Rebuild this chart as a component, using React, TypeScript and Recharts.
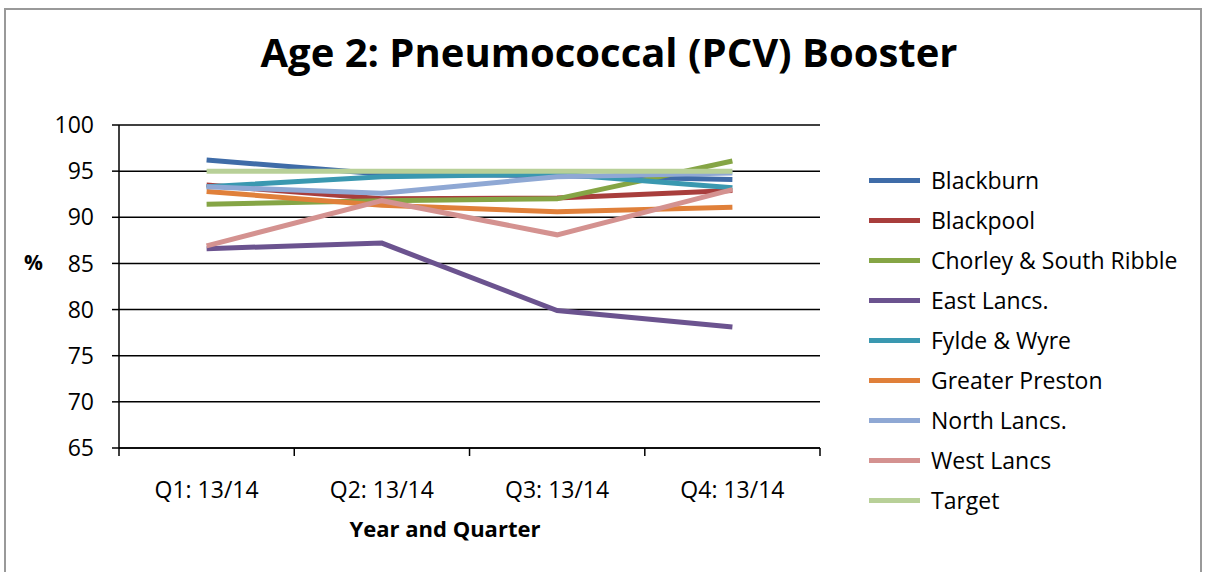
import { LineChart, Line, XAxis, YAxis, CartesianGrid } from 'recharts';

const quarters = ['Q1: 13/14', 'Q2: 13/14', 'Q3: 13/14', 'Q4: 13/14'];
const blackburn = [96.2, 94.7, 94.5, 94.1];
const blackpool = [93.5, 92.0, 92.1, 92.9];
const chorley = [91.4, 91.8, 92.0, 96.1];
const eastLancs = [86.6, 87.2, 79.9, 78.1];
const fylde = [93.3, 94.4, 94.7, 93.2];
const preston = [92.8, 91.3, 90.6, 91.1];
const northLancs = [93.3, 92.6, 94.4, 94.8];
const westLancs = [86.9, 91.8, 88.1, 93.0];
const target = [95, 95, 95, 95];
const yTicks = [65, 70, 75, 80, 85, 90, 95, 100];

const SERIES = [
  { key: 'Blackburn', values: blackburn, color: '#3F6CA8' },
  { key: 'Blackpool', values: blackpool, color: '#A83E3C' },
  { key: 'Chorley & South Ribble', values: chorley, color: '#85A545' },
  { key: 'East Lancs.', values: eastLancs, color: '#6B538F' },
  { key: 'Fylde & Wyre', values: fylde, color: '#3A98B0' },
  { key: 'Greater Preston', values: preston, color: '#E0803A' },
  { key: 'North Lancs.', values: northLancs, color: '#8FA8D4' },
  { key: 'West Lancs', values: westLancs, color: '#D49290' },
  { key: 'Target', values: target, color: '#B8D098' },
];

const data = quarters.map((q, i) => {
  const row: any = { q };
  SERIES.forEach((s) => (row[s.key] = s.values[i]));
  return row;
});

const FONT = '"Open Sans", Lato, sans-serif';
const HALF_BAND = 87.6;

// category label in the middle, tick marks on the category boundaries (Excel style)
function QuarterTick({ x, y, payload, index, visibleTicksCount }: any) {
  const last = index === visibleTicksCount - 1;
  return (
    <g>
      <line x1={x - HALF_BAND} x2={x - HALF_BAND} y1={y} y2={y + 8} stroke="#000" strokeWidth={1.5} />
      {last && <line x1={x + HALF_BAND} x2={x + HALF_BAND} y1={y} y2={y + 8} stroke="#000" strokeWidth={1.5} />}
      <text x={x} y={y + 50} textAnchor="middle" fill="#000" fontSize={23} fontFamily={FONT}>
        {payload.value}
      </text>
    </g>
  );
}

function LegendList() {
  return (
    <div style={{ position: 'absolute', left: 869, top: 160, fontFamily: FONT, fontSize: 23, color: '#000' }}>
      {SERIES.map((s) => (
        <div key={s.key} style={{ display: 'flex', alignItems: 'center', height: 40 }}>
          <div style={{ width: 51, height: 5, background: s.color, marginRight: 11 }} />
          <span>{s.key}</span>
        </div>
      ))}
    </div>
  );
}

export default function App() {
  return (
    <div style={{ position: 'absolute', left: 0, top: 0, width: 1206, height: 572, background: '#fff', overflow: 'hidden' }}>
      <div style={{ position: 'absolute', left: 4, top: 8, width: 1194, height: 700, borderTop: '2px solid #999', borderLeft: '2px solid #999', borderRight: '2px solid #999' }} />
      <div style={{ position: 'absolute', left: 0, width: 1218, top: 24, textAlign: 'center', fontFamily: FONT, fontWeight: 700, fontSize: 40, color: '#000' }}>
        Age 2: Pneumococcal (PCV) Booster
      </div>
      <div style={{ position: 'absolute', left: 24, top: 248, fontFamily: FONT, fontWeight: 700, fontSize: 21 }}>%</div>
      <div style={{ position: 'absolute', left: 245, width: 400, top: 513, textAlign: 'center', fontFamily: FONT, fontWeight: 700, fontSize: 22 }}>
        Year and Quarter
      </div>
      <div style={{ position: 'absolute', left: 0, top: 0 }}>
        <LineChart width={1206} height={572} data={data} margin={{ top: 125, right: 386, left: 0, bottom: 64 }}>
          <CartesianGrid vertical={false} stroke="#000" strokeWidth={1.5} />
          <XAxis dataKey="q" height={60} padding={{ left: HALF_BAND, right: HALF_BAND }} axisLine={{ stroke: '#000', strokeWidth: 1.5 }} tickLine={false} tickSize={0} tickMargin={0} tick={<QuarterTick />} interval={0} />
          <YAxis domain={[65, 100]} ticks={yTicks} width={119} tickSize={7} tickMargin={18} axisLine={{ stroke: '#000', strokeWidth: 1.5 }} tickLine={{ stroke: '#000', strokeWidth: 1.5 }} tick={{ fill: '#000', fontSize: 23, fontFamily: FONT }} />
          {SERIES.map((s) => (
            <Line key={s.key} dataKey={s.key} stroke={s.color} strokeWidth={5} dot={false} isAnimationActive={false} />
          ))}
        </LineChart>
      </div>
      <LegendList />
    </div>
  );
}
